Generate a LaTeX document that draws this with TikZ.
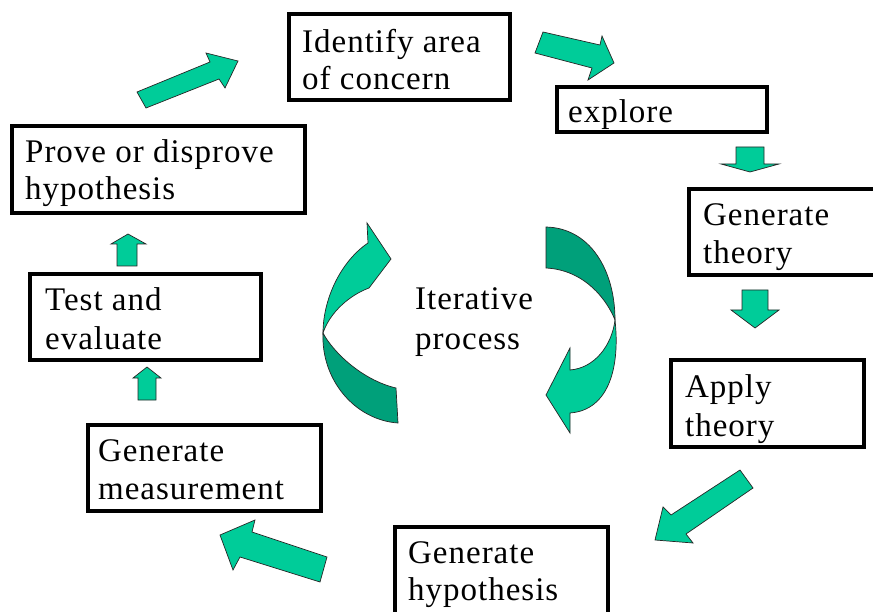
\documentclass[tikz,border=0pt]{standalone}
\usepackage{fontspec}
\setmainfont{Liberation Serif}[LetterSpace=3]
\definecolor{tealA}{RGB}{0,204,153}
\definecolor{tealB}{RGB}{0,160,122}
\begin{document}
\begin{tikzpicture}[x=1pt,y=-1pt,
  box/.style={draw=black,line width=4pt,rectangle,inner sep=0pt},
  txt/.style={anchor=base west,inner sep=0pt,font=\fontsize{33}{36}\selectfont},
  barrow/.style={fill=tealA,draw=black!85,line width=0.7pt,line join=miter},
  darkpart/.style={fill=tealB,draw=black!85,line width=0.7pt}]
\useasboundingbox (0,0) rectangle (873,612);
% boxes
\node[box,minimum width=221pt,minimum height=86pt] (b1) at (399.5,57) {};
\node[box,minimum width=210pt,minimum height=45pt] (b2) at (662,109.5) {};
\node[box,minimum width=186pt,minimum height=86pt] (b3) at (782,232) {};
\node[box,minimum width=193pt,minimum height=87pt] (b4) at (767.5,403.5) {};
\node[box,minimum width=213pt,minimum height=91pt] (b5) at (501.5,572.5) {};
\node[box,minimum width=233pt,minimum height=86pt] (b6) at (204.5,468) {};
\node[box,minimum width=231pt,minimum height=86pt] (b7) at (145.5,317) {};
\node[box,minimum width=293pt,minimum height=87pt] (b8) at (158.5,169.5) {};
% texts
\node[txt] (t1a) at (302,53) {Identify area};
\node[txt] (t1b) at (302,90) {of concern};
\node[txt] (t2) at (568,123) {explore};
\node[txt] (t3a) at (703,226) {Generate};
\node[txt] (t3b) at (703,264) {theory};
\node[txt] (t4a) at (685,397) {Apply};
\node[txt] (t4b) at (685,436) {theory};
\node[txt] (t5a) at (408,563) {Generate};
\node[txt] (t5b) at (408,600) {hypothesis};
\node[txt] (t6a) at (98,461) {Generate};
\node[txt] (t6b) at (98,499) {measurement};
\node[txt] (t7a) at (45,311) {Test and};
\node[txt] (t7b) at (45,349) {evaluate};
\node[txt] (t8a) at (25,163) {Prove or disprove};
\node[txt] (t8b) at (25,200) {hypothesis};
\node[txt] (c1) at (415,310) {Iterative};
\node[txt] (c2) at (415,349) {process};
% block arrows
\draw[barrow] (137,92) -- (210,62) -- (206,53) -- (238,61) -- (225,88) -- (219,79) -- (146,108) -- cycle;
\draw[barrow] (543,32) -- (600,45) -- (602,36) -- (614,63) -- (588,80) -- (592,68) -- (535,53) -- cycle;
\draw[barrow] (736,147) -- (764,147) -- (764,164) -- (779,164) -- (750,172) -- (721,164) -- (736,164) -- cycle;
\draw[barrow] (742,290) -- (768,290) -- (768,310) -- (779,310) -- (755,328) -- (731,310) -- (742,310) -- cycle;
\draw[barrow] (740,470) -- (671,515) -- (663,507) -- (655,540) -- (693,543) -- (686,534) -- (753,488) -- cycle;
\draw[barrow] (327,557) -- (252,532) -- (255,520) -- (220,535) -- (233,570) -- (240,557) -- (320,582) -- cycle;
\draw[barrow] (138,400) -- (138,378) -- (133,378) -- (147,367) -- (161,378) -- (156,378) -- (156,400) -- cycle;
\draw[barrow] (117,266) -- (117,244) -- (111,244) -- (128,234) -- (146,244) -- (137,244) -- (137,266) -- cycle;
% left curved arrow
\draw[darkpart] (323,333) .. controls (321,380) and (355,420) .. (398,423) -- (396,388) .. controls (362,380) and (333,352) .. (323,333) -- cycle;
\draw[barrow] (323,333) .. controls (323,300) and (340,262) .. (368,243) -- (367,223) -- (391,259) -- (369,288) .. controls (350,295) and (330,312) .. (323,333) -- cycle;
% right curved arrow
\draw[darkpart] (546,227) .. controls (590,228) and (615,270) .. (615,320) .. controls (607,300) and (585,270) .. (546,268) -- cycle;
\draw[barrow] (615,320) .. controls (620,365) and (610,410) .. (570,413) -- (570,433) -- (546,395) -- (570,348) -- (570,370) .. controls (595,368) and (612,345) .. (615,320) -- cycle;
\end{tikzpicture}
\end{document}
